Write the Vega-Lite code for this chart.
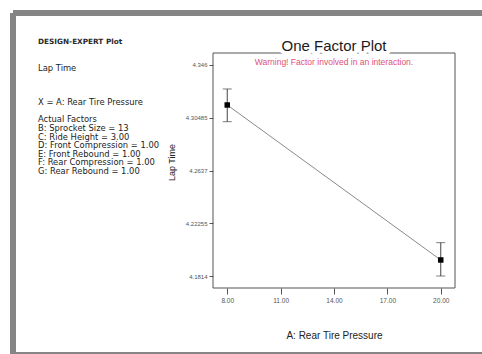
{
  "$schema": "https://vega.github.io/schema/vega-lite/v6.json",
  "width": 469,
  "height": 342,
  "autosize": "none",
  "padding": {"left": 13, "top": 13, "right": 0, "bottom": 0},
  "background": "#ffffff",
  "config": {
    "view": {"stroke": "#858585", "strokeWidth": 6, "strokeDash": [469, 342, 811, 0], "fill": "#ffffff"},
    "font": "Liberation Sans"
  },
  "datasets": {
    "points": [
      {"pressure": 8, "lap": 4.3148, "lo": 4.3018, "hi": 4.3273},
      {"pressure": 20, "lap": 4.1939, "lo": 4.1814, "hi": 4.2074}
    ],
    "notes": [
      {"line": 0, "text": "DESIGN-EXPERT Plot"},
      {"line": 3, "text": "Lap Time"},
      {"line": 7, "text": "X = A: Rear Tire Pressure"},
      {"line": 9, "text": "Actual Factors"},
      {"line": 10, "text": "B: Sprocket Size = 13"},
      {"line": 11, "text": "C: Ride Height = 3.00"},
      {"line": 12, "text": "D: Front Compression = 1.00"},
      {"line": 13, "text": "E: Front Rebound = 1.00"},
      {"line": 14, "text": "F: Rear Compression = 1.00"},
      {"line": 15, "text": "G: Rear Rebound = 1.00"}
    ]
  },
  "layer": [
    {
      "data": {"name": "notes"},
      "encoding": {
        "x": {"datum": 0, "type": "quantitative", "scale": {"domain": [0, 1], "range": [25, 26], "zero": false, "nice": false}, "axis": null},
        "y": {"field": "line", "type": "quantitative", "scale": {"domain": [0, 15], "range": [29, 158], "zero": false, "nice": false}, "axis": null},
        "text": {"field": "text"}
      },
      "layer": [
        {
          "transform": [{"filter": "datum.line == 0"}],
          "mark": {"type": "text", "align": "left", "baseline": "middle", "font": "DejaVu Sans", "fontSize": 7.3, "fontWeight": "bold", "color": "#2a2a2a"}
        },
        {
          "transform": [{"filter": "datum.line > 0"}],
          "mark": {"type": "text", "align": "left", "baseline": "middle", "font": "DejaVu Sans", "fontSize": 8.4, "color": "#222222"}
        }
      ]
    },
    {
      "layer": [
        {
          "data": {"name": "points"},
          "mark": {"type": "line", "color": "#8a8a8a", "strokeWidth": 1},
          "encoding": {
            "x": {
              "field": "pressure", "type": "quantitative", "title": "A: Rear Tire Pressure",
              "scale": {"domain": [7.2, 20.8], "range": [200, 442], "nice": false, "zero": false},
              "axis": {
                "values": [8, 11, 14, 17, 20], "format": ".2f",
                "offset": -67, "domain": false, "grid": false, "labelFlush": false, "labelOverlap": false,
                "tickColor": "#555555", "tickSize": 6, "labelFontSize": 6.5, "labelColor": "#555555", "labelPadding": 3,
                "titleFontSize": 10, "titleFontWeight": "normal", "titleColor": "#222222", "titlePadding": 27
              }
            },
            "y": {
              "field": "lap", "type": "quantitative", "title": "Lap Time",
              "scale": {"domain": [4.17204, 4.35536], "range": [275, 40], "nice": false, "zero": false},
              "axis": {
                "values": [4.1814, 4.22255, 4.2637, 4.30485, 4.346], "labelExpr": "datum.value",
                "offset": -200, "domain": false, "grid": false, "labelOverlap": false, "labelFlush": false,
                "tickColor": "#555555", "tickSize": 4, "labelFontSize": 6, "labelColor": "#555555", "labelPadding": 2,
                "titleFontSize": 9, "titleFontWeight": "normal", "titleColor": "#222222", "titlePadding": 9, "titleY": 149
              }
            }
          }
        },
        {
          "data": {"values": [{}]},
          "mark": {"type": "rect", "filled": false, "stroke": "#555555", "strokeWidth": 1},
          "encoding": {
            "x": {"datum": 7.2, "type": "quantitative"},
            "x2": {"datum": 20.8},
            "y": {"datum": 4.17204, "type": "quantitative"},
            "y2": {"datum": 4.35536}
          }
        },
        {
          "data": {"name": "points"},
          "mark": {"type": "errorbar", "ticks": {"size": 9}, "color": "#444444", "thickness": 1},
          "encoding": {
            "x": {"field": "pressure", "type": "quantitative", "title": "A: Rear Tire Pressure"},
            "y": {"field": "lo", "type": "quantitative", "title": "Lap Time"},
            "y2": {"field": "hi"}
          }
        },
        {
          "data": {"name": "points"},
          "mark": {"type": "point", "shape": "square", "filled": true, "size": 30, "color": "#000000", "opacity": 1},
          "encoding": {
            "x": {"field": "pressure", "type": "quantitative", "title": "A: Rear Tire Pressure"},
            "y": {"field": "lap", "type": "quantitative", "title": "Lap Time"}
          }
        },
        {
          "data": {"values": [{}]},
          "mark": {"type": "text", "fontSize": 15, "baseline": "alphabetic", "dy": -2, "fill": "#ffffff", "stroke": "#ffffff", "strokeWidth": 8, "strokeJoin": "round"},
          "encoding": {
            "x": {"datum": 14, "type": "quantitative"},
            "y": {"datum": 4.35536, "type": "quantitative"},
            "text": {"value": "One Factor Plot"}
          }
        },
        {
          "data": {"values": [{}]},
          "mark": {"type": "text", "fontSize": 15, "baseline": "alphabetic", "dy": -2, "color": "#1a1a1a"},
          "encoding": {
            "x": {"datum": 14, "type": "quantitative"},
            "y": {"datum": 4.35536, "type": "quantitative"},
            "text": {"value": "One Factor Plot"}
          }
        },
        {
          "data": {"values": [{}]},
          "mark": {"type": "text", "fontSize": 8.5, "baseline": "middle", "color": "#e0507a"},
          "encoding": {
            "x": {"datum": 14, "type": "quantitative"},
            "y": {"datum": 4.3483, "type": "quantitative"},
            "text": {"value": "Warning! Factor involved in an interaction."}
          }
        }
      ]
    }
  ],
  "resolve": {"scale": {"x": "independent", "y": "independent"}}
}
